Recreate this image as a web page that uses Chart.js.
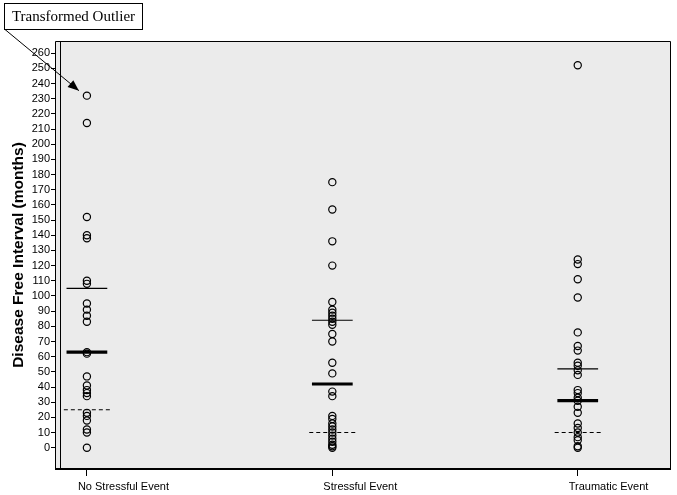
<!DOCTYPE html>
<html>
<head>
<meta charset="utf-8">
<script src="https://cdn.jsdelivr.net/npm/chart.js@4.4.1/dist/chart.umd.min.js"></script>
<style>
  html, body { margin: 0; padding: 0; background: #fff; }
  #wrap { width: 677px; height: 495px; }
</style>
</head>
<body>
<div id="wrap"><canvas id="grafico" width="677" height="495"></canvas></div>
<script>
// groups and values (months)
const grupos = ['No Stressful Event', 'Stressful Event', 'Traumatic Event']
const sinEstres = [232, 214, 152, 140, 138, 110, 108, 95, 91, 87, 83, 63, 62, 47, 41, 38, 36, 34, 23, 21, 18, 12, 10, 0]
const conEstres = [175, 157, 136, 120, 96, 91, 89, 87, 85, 83, 81, 75, 70, 56, 49, 37, 34, 21, 19, 16, 14, 12, 10, 8, 6, 4, 2, 1, 0]
const traumatico = [252, 124, 121, 111, 99, 76, 67, 64, 56, 54, 51, 48, 38, 36, 33, 31, 27, 23, 16, 13, 10, 7, 5, 1, 0]
const lineaAlta = [105, 84, 52]
const mediana = [63, 42, 31]
const lineaBaja = [25, 10, 10]
const yTicks = [0, 10, 20, 30, 40, 50, 60, 70, 80, 90, 100, 110, 120, 130, 140, 150, 160, 170, 180, 190, 200, 210, 220, 230, 240, 250, 260]
const outlier = 232

const FONT = 'Arial, "Liberation Sans", sans-serif'

const puntos = (valores, i) => valores.map(v => ({ x: i + 1, y: v }))

const linea = (valores, ancho, grosor, dash) => valores.map((v, i) => ({
    type: 'line',
    data: [{ x: i + 1 - ancho, y: v }, { x: i + 1 + ancho, y: v }],
    borderColor: '#000',
    borderWidth: grosor,
    borderDash: dash,
    pointRadius: 0,
    fill: false
}))

const datasets = [sinEstres, conEstres, traumatico].map((vals, i) => ({
    type: 'scatter',
    data: puntos(vals, i),
    pointStyle: 'circle',
    pointRadius: 3.6,
    borderColor: '#000',
    borderWidth: 1.2,
    backgroundColor: 'rgba(0,0,0,0)'
}))
datasets.push(...linea(lineaAlta, 0.083, 1.2, []))
datasets.push(...linea(mediana, 0.083, 3.2, []))
datasets.push(...linea(lineaBaja, 0.094, 1.1, [4, 3]))

// gray box, frame and annotation
const marco = {
    id: 'marco',
    beforeDraw(chart) {
        const { ctx, chartArea: a } = chart
        ctx.save()
        ctx.fillStyle = '#ebebeb'
        ctx.fillRect(a.left, a.top, a.right - a.left, a.bottom - a.top)
        ctx.restore()
    },
    afterDatasetsDraw(chart) {
        const { ctx, chartArea: a } = chart
        ctx.save()
        ctx.strokeStyle = '#000'
        ctx.lineWidth = 1
        ctx.beginPath()
        ctx.moveTo(a.left + 0.5, a.bottom)
        ctx.lineTo(a.left + 0.5, a.top + 0.5)
        ctx.lineTo(a.right - 0.5, a.top + 0.5)
        ctx.lineTo(a.right - 0.5, a.bottom)
        ctx.moveTo(a.left + 5.5, a.bottom)
        ctx.lineTo(a.left + 5.5, a.top + 0.5)
        ctx.stroke()
        ctx.lineWidth = 2
        ctx.beginPath()
        ctx.moveTo(a.left, a.bottom)
        ctx.lineTo(a.right, a.bottom)
        ctx.stroke()
        ctx.restore()
    },
    afterDraw(chart) {
        const { ctx } = chart
        const x = chart.scales.x.getPixelForValue(1)
        const y = chart.scales.y.getPixelForValue(outlier)
        const tipX = x - 8, tipY = y - 5
        ctx.save()
        // arrow
        const x0 = 5, y0 = 29.5
        ctx.strokeStyle = '#000'
        ctx.lineWidth = 1
        ctx.beginPath()
        ctx.moveTo(x0, y0)
        ctx.lineTo(tipX, tipY)
        ctx.stroke()
        const ang = Math.atan2(tipY - y0, tipX - x0)
        const L = 11, W = 4.5
        ctx.fillStyle = '#000'
        ctx.beginPath()
        ctx.moveTo(tipX, tipY)
        ctx.lineTo(tipX - L * Math.cos(ang) + W * Math.sin(ang), tipY - L * Math.sin(ang) - W * Math.cos(ang))
        ctx.lineTo(tipX - L * Math.cos(ang) - W * Math.sin(ang), tipY - L * Math.sin(ang) + W * Math.cos(ang))
        ctx.closePath()
        ctx.fill()
        // label box
        ctx.fillStyle = '#fff'
        ctx.fillRect(4.5, 3.5, 138, 26)
        ctx.strokeRect(4.5, 3.5, 138, 26)
        ctx.fillStyle = '#000'
        ctx.font = '15px "Liberation Serif", "Times New Roman", serif'
        ctx.textAlign = 'center'
        ctx.textBaseline = 'middle'
        ctx.fillText('Transformed Outlier', 73.5, 17)
        ctx.restore()
    }
}

const chart = new Chart(document.querySelector('#grafico'), {
    type: 'scatter',
    data: { datasets },
    options: {
        responsive: false,
        animation: false,
        layout: { padding: { top: 41, right: 6, left: 0, bottom: 0 } },
        plugins: { legend: { display: false }, tooltip: { enabled: false } },
        scales: {
            x: {
                type: 'linear',
                min: 0.87,
                max: 3.38,
                afterBuildTicks: (s) => { s.ticks = grupos.map((g, i) => ({ value: i + 1 })) },
                afterFit: (s) => { s.height = 26 },
                border: { display: false },
                grid: { drawOnChartArea: false, color: '#000', tickLength: 7, tickWidth: 1 },
                ticks: {
                    autoSkip: false,
                    maxRotation: 0,
                    align: 'start',
                    labelOffset: -9,
                    padding: 4,
                    color: '#000',
                    font: { family: FONT, size: 11 },
                    callback: (v) => grupos[v - 1]
                }
            },
            y: {
                min: -14,
                max: 268,
                afterBuildTicks: (s) => { s.ticks = yTicks.map(v => ({ value: v })) },
                afterFit: (s) => { s.width = 55 },
                border: { display: false },
                grid: { drawOnChartArea: false, color: '#000', tickLength: 4, tickWidth: 1 },
                ticks: {
                    autoSkip: false,
                    padding: 1,
                    color: '#000',
                    font: { family: FONT, size: 11 }
                },
                title: {
                    display: true,
                    text: 'Disease Free Interval (months)',
                    color: '#000',
                    padding: { top: 9, bottom: 0 },
                    font: { family: FONT, size: 15.5, weight: 'bold' }
                }
            }
        }
    },
    plugins: [marco]
})
</script>
</body>
</html>
